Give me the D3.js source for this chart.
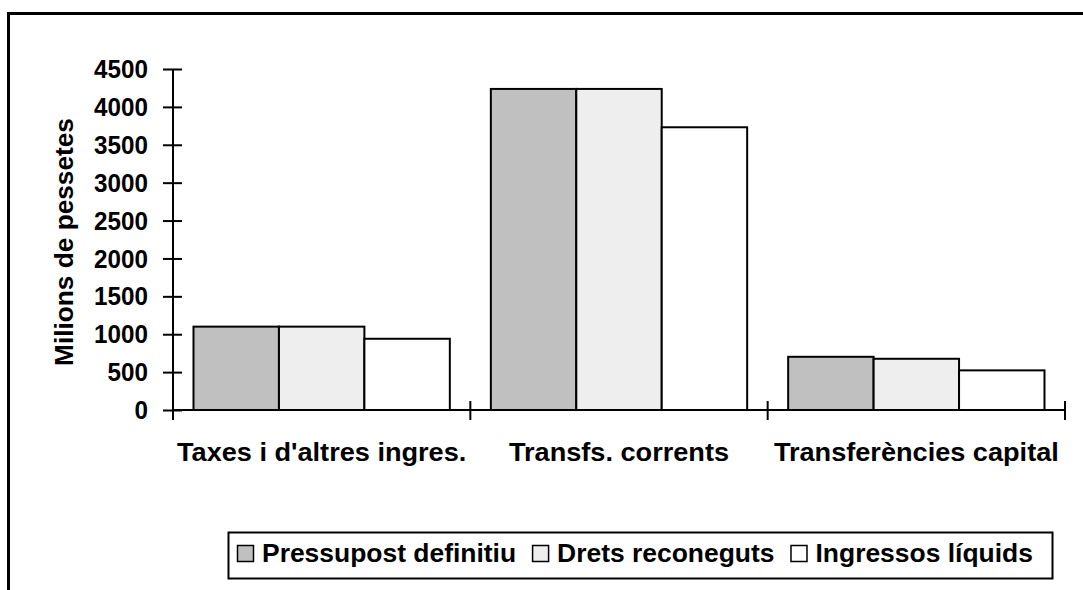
<!DOCTYPE html>
<html>
<head>
<meta charset="utf-8">
<script src="https://cdn.jsdelivr.net/npm/d3@7"></script>
<style>
  body { margin: 0; background: #fff; }
  svg { display: block; }
  text { font-family: "Liberation Sans", Arial, sans-serif; font-weight: bold; font-size: 25px; fill: #000; }
</style>
</head>
<body>
<div class="chart"></div>
<script>
// chart data
var categories = ["Taxes i d'altres ingres.", "Transfs. corrents", "Transferències capital"];
var seriesNames = ["Pressupost definitiu", "Drets reconeguts", "Ingressos líquids"];
var pressupost = [1100, 4237, 702];
var drets = [1100, 4237, 676];
var ingressos = [940, 3731, 523];
var yTicks = [0, 500, 1000, 1500, 2000, 2500, 3000, 3500, 4000, 4500];
var seriesFill = ["#c0c0c0", "#eeeeee", "#ffffff"];

var values = [pressupost, drets, ingressos];

var fullWidth = 1083,
    fullHeight = 590;
var plot = {left: 173, right: 1065, top: 69, bottom: 410};

var svg = d3.select(".chart")
    .append("svg")
    .attr("width", fullWidth)
    .attr("height", fullHeight);

// outer frame (runs off the right and bottom)
svg.append("rect")
    .attr("x", 8.5).attr("y", 13.5)
    .attr("width", 1200).attr("height", 800)
    .attr("fill", "none")
    .attr("stroke", "#000")
    .attr("stroke-width", 3);

var x0 = d3.scaleBand()
    .domain(categories)
    .range([plot.left, plot.right])
    .padding(0);

var x1 = d3.scaleBand()
    .domain(seriesNames)
    .range([0, x0.bandwidth()])
    .paddingInner(0)
    .paddingOuter(0.24);

var y = d3.scaleLinear()
    .domain([0, 4500])
    .range([plot.bottom, plot.top]);

// bars
var groups = svg.selectAll("g.cat")
    .data(categories)
    .enter()
    .append("g")
    .attr("class", "cat")
    .attr("transform", d => "translate(" + x0(d) + ",0)");

groups.selectAll("rect")
    .data((d, ci) => seriesNames.map((s, si) => ({s: s, si: si, v: values[si][ci]})))
    .enter()
    .append("rect")
    .attr("x", d => x1(d.s))
    .attr("y", d => y(d.v))
    .attr("width", x1.bandwidth())
    .attr("height", d => y(0) - y(d.v))
    .attr("fill", d => seriesFill[d.si])
    .attr("stroke", "#000")
    .attr("stroke-width", 2);

// y axis
var yAxis = svg.append("g")
    .attr("transform", "translate(" + plot.left + ",0)")
    .call(d3.axisLeft(y).tickValues(yTicks).tickFormat(d3.format("d")).tickSizeOuter(0).tickPadding(0));

yAxis.select(".domain").remove();
yAxis.selectAll("line").attr("x1", -10).attr("x2", 9).attr("stroke", "#000").attr("stroke-width", 2);
yAxis.selectAll("text")
    .attr("x", null).attr("dy", null)
    .attr("text-anchor", "end")
    .attr("dominant-baseline", "central")
    .attr("font-size", null).attr("font-family", null)
    .attr("transform", "translate(-25,0) scale(0.97,1)");

svg.append("line")
    .attr("x1", plot.left).attr("x2", plot.left)
    .attr("y1", plot.top).attr("y2", plot.bottom + 10)
    .attr("stroke", "#000").attr("stroke-width", 2);

// category axis
svg.append("line")
    .attr("x1", plot.left).attr("x2", plot.right)
    .attr("y1", plot.bottom).attr("y2", plot.bottom)
    .attr("stroke", "#000").attr("stroke-width", 2);

var catEdges = categories.map(c => x0(c) + x0.bandwidth()).concat([plot.left]);
svg.selectAll("line.ctick")
    .data(catEdges)
    .enter()
    .append("line")
    .attr("class", "ctick")
    .attr("x1", d => d).attr("x2", d => d)
    .attr("y1", plot.bottom - 9).attr("y2", plot.bottom + 10)
    .attr("stroke", "#000").attr("stroke-width", 2);

svg.selectAll("text.cat")
    .data(categories)
    .enter()
    .append("text")
    .attr("class", "cat")
    .attr("text-anchor", "middle")
    .attr("transform", d => "translate(" + (x0(d) + x0.bandwidth() / 2) + ",461) scale(1.085,1)")
    .text(d => d);

// y axis title
svg.append("text")
    .attr("text-anchor", "middle")
    .attr("transform", "translate(73,242) rotate(-90) scale(1.05,1)")
    .text("Milions de pessetes");

// legend
var legend = svg.append("g");
legend.append("rect")
    .attr("x", 228.5).attr("y", 532.5)
    .attr("width", 824).attr("height", 46)
    .attr("fill", "#fff")
    .attr("stroke", "#000")
    .attr("stroke-width", 2);

var lx = 237;
seriesNames.forEach(function (s, i) {
    legend.append("rect")
        .attr("x", lx + 0.5).attr("y", 545.5)
        .attr("width", 16).attr("height", 16)
        .attr("fill", seriesFill[i])
        .attr("stroke", "#000")
        .attr("stroke-width", 1.5);
    var t = legend.append("text")
        .attr("transform", "translate(" + (lx + 25) + ",562) scale(1.058,1)")
        .text(s);
    lx += 25 + t.node().getComputedTextLength() * 1.058 + 16;
});
</script>
</body>
</html>
